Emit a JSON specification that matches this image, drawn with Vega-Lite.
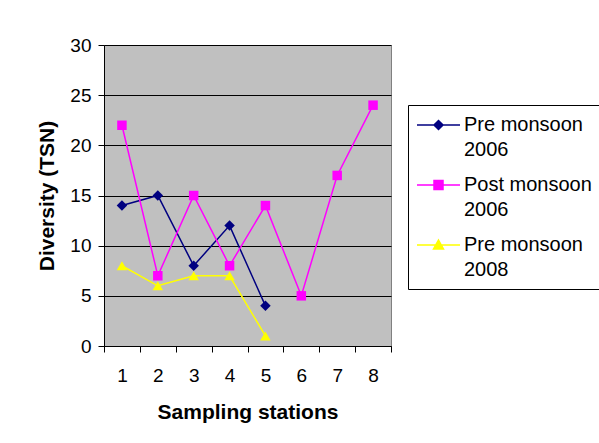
{
  "$schema": "https://vega.github.io/schema/vega-lite/v6.json",
  "width": 287,
  "height": 301,
  "autosize": {"type": "none"},
  "padding": {"left": 104, "top": 45, "right": 208, "bottom": 97},
  "background": "white",
  "config": {
    "font": "Liberation Sans",
    "view": {"fill": "#C0C0C0", "stroke": "#808080", "strokeWidth": 1},
    "axis": {
      "domainColor": "black",
      "tickColor": "black",
      "labelColor": "black",
      "titleColor": "black",
      "labelFont": "Liberation Sans",
      "titleFont": "Liberation Sans",
      "labelFontSize": 19,
      "titleFontSize": 21,
      "titleFontWeight": "bold",
      "tickSize": 6
    }
  },
  "data": {
    "values": [
      {"station": 1, "series": "Pre monsoon 2006", "value": 14},
      {"station": 2, "series": "Pre monsoon 2006", "value": 15},
      {"station": 3, "series": "Pre monsoon 2006", "value": 8},
      {"station": 4, "series": "Pre monsoon 2006", "value": 12},
      {"station": 5, "series": "Pre monsoon 2006", "value": 4},
      {"station": 1, "series": "Post monsoon 2006", "value": 22},
      {"station": 2, "series": "Post monsoon 2006", "value": 7},
      {"station": 3, "series": "Post monsoon 2006", "value": 15},
      {"station": 4, "series": "Post monsoon 2006", "value": 8},
      {"station": 5, "series": "Post monsoon 2006", "value": 14},
      {"station": 6, "series": "Post monsoon 2006", "value": 5},
      {"station": 7, "series": "Post monsoon 2006", "value": 17},
      {"station": 8, "series": "Post monsoon 2006", "value": 24},
      {"station": 1, "series": "Pre monsoon 2008", "value": 8},
      {"station": 2, "series": "Pre monsoon 2008", "value": 6},
      {"station": 3, "series": "Pre monsoon 2008", "value": 7},
      {"station": 4, "series": "Pre monsoon 2008", "value": 7},
      {"station": 5, "series": "Pre monsoon 2008", "value": 1}
    ]
  },
  "encoding": {
    "x": {
      "field": "station",
      "type": "ordinal",
      "bandPosition": 0.5,
      "scale": {"type": "band", "paddingInner": 0, "paddingOuter": 0, "domain": [1, 2, 3, 4, 5, 6, 7, 8]},
      "axis": {"title": "Sampling stations", "labelAngle": 0, "tickBand": "extent", "labelPadding": 14, "titlePadding": 16, "grid": false}
    },
    "y": {
      "field": "value",
      "type": "quantitative",
      "scale": {"domain": [0, 30], "nice": false},
      "axis": {"title": "Diversity (TSN)", "values": [0, 5, 10, 15, 20, 25, 30], "grid": true, "gridColor": "black", "gridOpacity": 1, "gridWidth": 1, "labelPadding": 7, "titlePadding": 12}
    },
    "color": {
      "field": "series",
      "type": "nominal",
      "scale": {"domain": ["Pre monsoon 2006", "Post monsoon 2006", "Pre monsoon 2008"], "range": ["#000080", "#FF00FF", "#FFFF00"]},
      "legend": {
        "title": null,
        "orient": "none",
        "legendX": 304,
        "legendY": 60,
        "strokeColor": "black",
        "fillColor": "white",
        "padding": 9,
        "symbolSize": 400,
        "symbolStrokeWidth": 1.5,
        "labelFont": "Liberation Sans",
        "labelFontSize": 20,
        "labelColor": "black",
        "labelOffset": 25,
        "labelLimit": 300,
        "rowPadding": 14,
        "labelExpr": "[slice(datum.label, 0, -5), slice(datum.label, -4)]",
        "encode": {
          "symbols": {
            "update": {
              "shape": {"signal": "datum.value == 'Pre monsoon 2006' ? 'M-1.1,0H3.2M1.05,-0.45L1.5,0L1.05,0.45L0.6,0Z' : datum.value == 'Post monsoon 2006' ? 'M-1.1,0H3.2M0.6,-0.45H1.5V0.45H0.6Z' : 'M-1.1,0H3.2M1.05,-0.5L1.55,0.4H0.55Z'"},
              "fill": {"scale": "color", "field": "value"},
              "stroke": {"scale": "color", "field": "value"},
              "opacity": {"value": 1},
              "strokeWidth": {"value": 1.5}
            }
          },
          "labels": {
            "update": {
              "lineHeight": {"value": 25}
            }
          }
        }
      }
    }
  },
  "layer": [
    {"mark": {"type": "line", "strokeWidth": 1.5}},
    {"transform": [{"filter": "datum.series == 'Pre monsoon 2006'"}], "mark": {"type": "point", "shape": "diamond", "filled": true, "opacity": 1, "size": 110}},
    {"transform": [{"filter": "datum.series == 'Post monsoon 2006'"}], "mark": {"type": "point", "shape": "square", "filled": true, "opacity": 1, "size": 90}},
    {"transform": [{"filter": "datum.series == 'Pre monsoon 2008'"}], "mark": {"type": "point", "shape": "triangle-up", "filled": true, "opacity": 1, "size": 110}}
  ]
}
